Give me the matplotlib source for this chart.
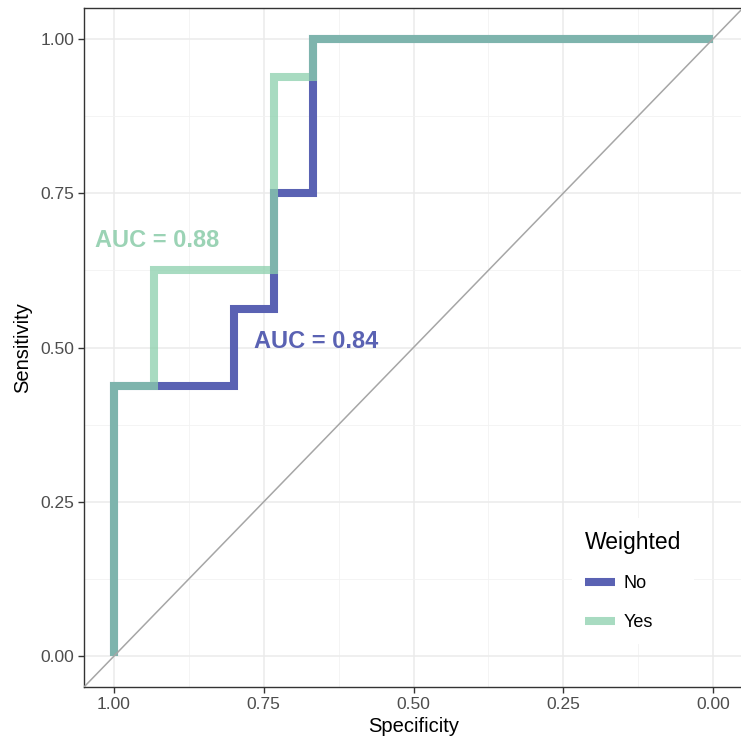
import matplotlib
matplotlib.use("Agg")
import matplotlib.pyplot as plt
from matplotlib.ticker import FixedLocator

plt.rcParams['font.family'] = ['Liberation Sans', 'DejaVu Sans']

# ROC curve corner points (specificity, sensitivity)
spec_no = [1.0, 1.0, 0.800, 0.800, 0.733, 0.733, 0.667, 0.667, 0.0]
sens_no = [0.0, 0.4375, 0.4375, 0.5625, 0.5625, 0.75, 0.75, 1.0, 1.0]
spec_yes = [1.0, 1.0, 0.933, 0.933, 0.733, 0.733, 0.667, 0.667, 0.0]
sens_yes = [0.0, 0.4375, 0.4375, 0.625, 0.625, 0.9375, 0.9375, 1.0, 1.0]
series_labels = ["No", "Yes"]
auc_labels = ["AUC = 0.84", "AUC = 0.88"]
auc_pos = [(0.662, 0.51), (0.928, 0.674)]
ticks = [1.00, 0.75, 0.50, 0.25, 0.00]
minor_ticks = [0.875, 0.625, 0.375, 0.125]

col_no = "#5A62B3"
col_yes = "#8BD0AC"
col_yes_txt = "#9BD3B5"

W, H = 741, 739
fig = plt.figure(figsize=(W / 100, H / 100), dpi=100)
ax = fig.add_axes([84 / W, 1 - 687 / H, (743 - 84) / W, (687 - 8) / H])

ax.set_xlim(1.05, -0.05)
ax.set_ylim(-0.05, 1.05)

ax.xaxis.set_major_locator(FixedLocator(ticks))
ax.yaxis.set_major_locator(FixedLocator(ticks))
ax.xaxis.set_minor_locator(FixedLocator(minor_ticks))
ax.yaxis.set_minor_locator(FixedLocator(minor_ticks))
ax.set_xticklabels([f"{t:.2f}" for t in ticks])
ax.set_yticklabels([f"{t:.2f}" for t in ticks])

ax.grid(True, which="major", color="#EBEBEB", lw=1.1, zorder=0)
ax.grid(True, which="minor", color="#F2F2F2", lw=0.6, zorder=0)
ax.set_axisbelow(True)

ax.tick_params(which="major", length=4, width=1.0, color="#333333",
               labelsize=12.5, labelcolor="#4D4D4D", pad=3)
ax.tick_params(which="minor", length=0)

for s in ["left", "bottom", "top"]:
    ax.spines[s].set_color("#333333")
    ax.spines[s].set_linewidth(1.0)
ax.spines["right"].set_visible(False)

ax.plot(spec_no, sens_no, color=col_no, lw=5.8, solid_joinstyle="miter",
        solid_capstyle="butt", label=series_labels[0], zorder=2)
ax.plot(spec_yes, sens_yes, color=col_yes, alpha=0.75, lw=5.8, solid_joinstyle="miter",
        solid_capstyle="butt", label=series_labels[1], zorder=3)

# diagonal reference line
ax.plot([1.05, -0.05], [-0.05, 1.05], color="#A6A6A6", lw=1.1, zorder=4)

ax.text(auc_pos[0][0], auc_pos[0][1], auc_labels[0], color=col_no, fontsize=17,
        fontweight="bold", ha="center", va="center", zorder=5)
ax.text(auc_pos[1][0], auc_pos[1][1], auc_labels[1], color=col_yes_txt, fontsize=17,
        fontweight="bold", ha="center", va="center", zorder=5)

ax.set_xlabel("Specificity", fontsize=14.5, color="black", labelpad=4)
ax.set_ylabel("Sensitivity", fontsize=14.5, color="black", labelpad=6)

leg = ax.legend(title="Weighted", loc="upper left",
                bbox_to_anchor=(572 / W, 1 - 518 / H), bbox_transform=fig.transFigure,
                fontsize=13, title_fontsize=16.5, frameon=True, fancybox=False,
                edgecolor="none", facecolor="white", framealpha=1,
                handlelength=1.7, handletextpad=0.45, labelspacing=1.2,
                borderpad=0.7, borderaxespad=0, alignment="left")
leg.set_zorder(6)

fig.savefig("out.png", dpi=100)
